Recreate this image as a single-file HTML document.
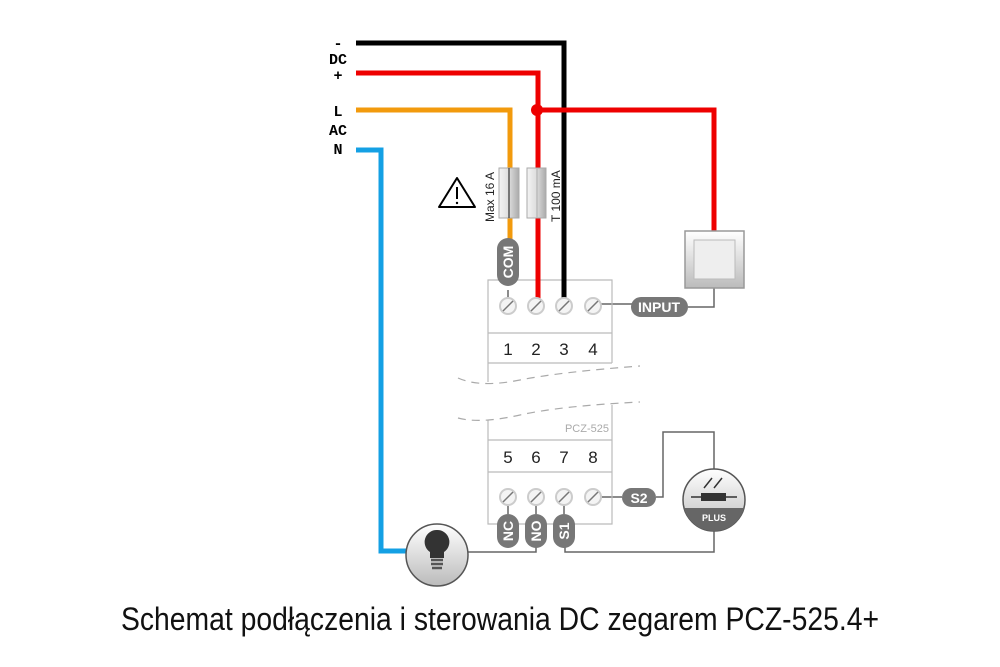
<!DOCTYPE html>
<html><head><meta charset="utf-8"><style>html,body{margin:0;padding:0;background:#fff}svg{display:block}</style></head>
<body>
<svg width="1000" height="667" viewBox="0 0 1000 667" xmlns="http://www.w3.org/2000/svg">
<defs>
<linearGradient id="g1" x1="0" y1="0" x2="0" y2="1"><stop offset="0" stop-color="#fff"/><stop offset="1" stop-color="#bbb"/></linearGradient>
<linearGradient id="gf" x1="0" y1="0" x2="1" y2="0"><stop offset="0" stop-color="#f4f4f4"/><stop offset="0.5" stop-color="#ddd"/><stop offset="1" stop-color="#aaa"/></linearGradient>
</defs>
<g font-family="Liberation Mono, monospace" font-weight="bold" font-size="15" text-anchor="middle" fill="#000">
<text x="338" y="48">-</text><text x="338" y="64">DC</text><text x="338" y="80">+</text>
<text x="338" y="116">L</text><text x="338" y="135">AC</text><text x="338" y="154">N</text>
</g>
<g stroke="#666" stroke-width="1.5" fill="none">
<path d="M508 304 V290"/><path d="M600 304 H632"/><path d="M688 307 H714 V288"/>
<path d="M600 497 H622"/><path d="M656 497 H663 V432 H714 V470"/>
<path d="M714 530 V552 H565 V546"/><path d="M468 552 H536 V546"/>
<path d="M508 505 V514"/><path d="M536 505 V514"/><path d="M564 505 V514"/>
</g>
<g stroke="#bbb" stroke-width="1.2" fill="none">
<path d="M488 382 V280 H612 V363 M488 333 H612 M488 363 H612"/>
<path d="M488 420 V524 H612 V405 M488 440 H612 M488 472 H612"/>
</g>
<g stroke="#aaa" stroke-width="1.2" fill="none" stroke-dasharray="8 6">
<path d="M458 378 Q480 388 520 380 T640 366"/>
<path d="M458 418 Q480 424 520 415 T640 402"/>
</g>
<text x="609" y="432" font-family="Liberation Sans, sans-serif" font-size="11" fill="#aaa" text-anchor="end">PCZ-525</text>
<g font-family="Liberation Sans, sans-serif" font-size="17" fill="#222" text-anchor="middle">
<text x="508" y="355">1</text><text x="536" y="355">2</text><text x="564" y="355">3</text><text x="593" y="355">4</text>
<text x="508" y="463">5</text><text x="536" y="463">6</text><text x="564" y="463">7</text><text x="593" y="463">8</text>
</g>
<g fill="none" stroke-width="5">
<path d="M356 43 H564 V300" stroke="#000"/>
<path d="M356 73 H538 V300" stroke="#e00"/>
<path d="M537 110 H714 V232" stroke="#e00"/>
<path d="M356 110 H510 V242" stroke="#f29a0c"/>
<path d="M356 150 H381 V551 H412" stroke="#14a0e4"/>
</g>
<circle cx="537" cy="110" r="6" fill="#e00"/>
<rect x="499" y="168" width="20" height="50" fill="url(#gf)" stroke="#aaa"/>
<line x1="509" y1="168" x2="509" y2="218" stroke="#555" stroke-width="1.5"/>
<rect x="527" y="168" width="19" height="50" fill="url(#gf)" stroke="#aaa"/>
<line x1="537" y1="168" x2="537" y2="218" stroke="#bbb" stroke-width="1.5"/>
<g font-family="Liberation Sans, sans-serif" font-size="12" fill="#222">
<text transform="translate(494 222) rotate(-90)">Max 16 A</text>
<text transform="translate(560 222) rotate(-90)">T 100 mA</text>
</g>
<path d="M457 178 L475 207 H439 Z" fill="#fff" stroke="#000" stroke-width="2" stroke-linejoin="round"/>
<line x1="457" y1="187" x2="457" y2="199" stroke="#000" stroke-width="2"/><circle cx="457" cy="203" r="1.2"/>
<g fill="#f4f4f4" stroke="#ccc" stroke-width="2">
<circle cx="508" cy="306" r="8"/><circle cx="536" cy="306" r="8"/><circle cx="564" cy="306" r="8"/><circle cx="593" cy="306" r="8"/>
<circle cx="508" cy="497" r="8"/><circle cx="536" cy="497" r="8"/><circle cx="564" cy="497" r="8"/><circle cx="593" cy="497" r="8"/>
</g>
<g stroke="#777" stroke-width="1.5">
<path d="M503 311 L513 301 M531 311 L541 301 M559 311 L569 301 M588 311 L598 301"/>
<path d="M503 502 L513 492 M531 502 L541 492 M559 502 L569 492 M588 502 L598 492"/>
</g>
<g fill="#777">
<rect x="497" y="238" width="22" height="48" rx="11"/>
<rect x="631" y="297" width="57" height="20" rx="10"/>
<rect x="622" y="488" width="34" height="19" rx="9.5"/>
<rect x="497" y="514" width="22" height="34" rx="11"/>
<rect x="525" y="514" width="22" height="34" rx="11"/>
<rect x="553" y="514" width="22" height="34" rx="11"/>
</g>
<g font-family="Liberation Sans, sans-serif" font-weight="bold" font-size="14" fill="#fff" text-anchor="middle">
<text transform="translate(513 262) rotate(-90)">COM</text>
<text x="659" y="312">INPUT</text>
<text x="639" y="503">S2</text>
<text transform="translate(513 531) rotate(-90)">NC</text>
<text transform="translate(541 531) rotate(-90)">NO</text>
<text transform="translate(569 531) rotate(-90)">S1</text>
</g>
<rect x="685" y="231" width="59" height="57" fill="url(#g1)" stroke="#999" stroke-width="1.5"/>
<rect x="694" y="240" width="41" height="39" fill="#eee" stroke="#bbb"/>
<circle cx="714" cy="500" r="31" fill="url(#g1)" stroke="#555" stroke-width="1.5"/>
<path d="M684 508 A31 31 0 0 0 744 508 Z" fill="#666"/>
<text x="714" y="521" font-family="Liberation Sans, sans-serif" font-weight="bold" font-size="9" fill="#fff" text-anchor="middle">PLUS</text>
<line x1="691" y1="497" x2="737" y2="497" stroke="#333" stroke-width="1.5"/>
<rect x="701" y="493" width="25" height="8" fill="#333"/>
<path d="M712 478 L704 488 M722 478 L714 488" stroke="#333" stroke-width="1.5"/>
<circle cx="437" cy="555" r="31" fill="url(#g1)" stroke="#555" stroke-width="1.5"/>
<path d="M437 530 a12 12 0 0 1 7 22 v6 h-14 v-6 a12 12 0 0 1 7 -22z" fill="#333"/>
<path d="M431 560 h12 M431 564 h12 M432 568 h10" stroke="#555" stroke-width="2.5"/>
<text x="121" y="630" textLength="758" lengthAdjust="spacingAndGlyphs" font-family="Liberation Sans, sans-serif" font-size="32" fill="#111">Schemat podłączenia i sterowania DC zegarem PCZ-525.4+</text>
</svg>
</body></html>
